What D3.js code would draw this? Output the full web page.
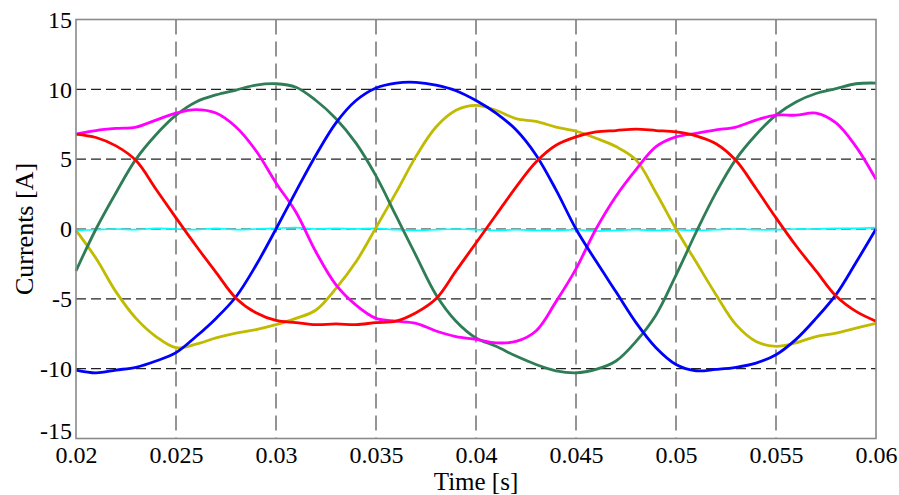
<!DOCTYPE html>
<html><head><meta charset="utf-8">
<script src="https://cdn.jsdelivr.net/npm/d3@7"></script>
<style>html,body{margin:0;padding:0;background:#fff;}svg{display:block;} svg text{font-family:"Liberation Serif","Times New Roman",Times,serif !important;}</style>
</head><body>
<svg id="chart" width="899" height="495"></svg>
<script>
const time = [0.020,0.021,0.022,0.023,0.024,0.025,0.026,0.027,0.028,0.029,0.030,0.031,0.032,0.033,0.034,0.035,0.036,0.037,0.038,0.039,0.040,0.041,0.042,0.043,0.044,0.045,0.046,0.047,0.048,0.049,0.050,0.051,0.052,0.053,0.054,0.055,0.056,0.057,0.058,0.059,0.060];
const red = [6.8,6.55,5.95,4.9,2.85,0.8,-1.2,-3.1,-4.95,-6.0,-6.55,-6.7,-6.85,-6.8,-6.85,-6.7,-6.6,-6.0,-5.0,-3.0,-1.0,1.0,3.0,4.8,6.0,6.6,6.95,7.05,7.15,7.05,6.95,6.67,6.1,4.9,2.9,0.8,-1.2,-3.0,-4.8,-5.9,-6.6];
const magenta = [6.8,7.05,7.2,7.3,7.8,8.3,8.55,8.3,7.3,5.6,3.3,1.2,-1.65,-4.0,-5.45,-6.4,-6.6,-6.75,-7.3,-7.7,-7.9,-8.15,-8.05,-7.3,-5.2,-2.85,0.0,2.35,4.25,5.9,6.6,6.85,7.1,7.3,7.8,8.15,8.15,8.3,7.6,5.9,3.55];
const green = [-3.0,0.0,2.6,5.0,6.75,8.15,9.1,9.6,9.95,10.3,10.4,10.15,9.2,7.9,6.15,3.8,0.95,-1.9,-4.7,-6.6,-7.8,-8.4,-9.1,-9.7,-10.15,-10.3,-10.05,-9.45,-8.05,-6.15,-3.3,-0.25,2.6,5.0,6.75,8.15,9.1,9.7,10.05,10.4,10.45];
const blue = [-10.1,-10.3,-10.1,-9.9,-9.45,-8.85,-7.7,-6.4,-4.85,-2.6,0.0,2.7,5.3,7.6,9.2,10.1,10.45,10.5,10.3,9.9,9.2,8.3,7.1,5.3,2.8,0.0,-2.3,-4.5,-6.7,-8.5,-9.7,-10.15,-10.05,-9.9,-9.6,-9.0,-7.9,-6.4,-4.7,-2.4,0.0];
const yellow = [-0.1,-2.1,-4.5,-6.4,-7.7,-8.5,-8.25,-7.8,-7.45,-7.2,-6.85,-6.4,-5.8,-4.25,-2.35,0.1,2.6,5.2,7.3,8.5,8.85,8.5,7.9,7.7,7.3,7.0,6.5,5.9,4.95,2.6,0.0,-2.35,-4.7,-6.85,-8.05,-8.4,-8.15,-7.7,-7.45,-7.1,-6.75];
const cyan = [-0.1,-0.05,0.0,-0.05,0.05,0.0,-0.05,0.05,-0.05,0.0,0.05,0.1,0.0,0.05,0.0,0.05,-0.05,-0.1,-0.05,0.0,-0.05,-0.1,-0.05,-0.1,-0.1,-0.05,-0.15,-0.1,-0.05,-0.1,-0.05,-0.1,-0.05,0.0,-0.05,-0.05,0.0,0.0,0.05,0.05,0.1];
const xTicks = [0.02,0.025,0.03,0.035,0.04,0.045,0.05,0.055,0.06];
const xTickLabels = ["0.02","0.025","0.03","0.035","0.04","0.045","0.05","0.055","0.06"];
const yTicks = [-15,-10,-5,0,5,10,15];
const yTickLabels = ["-15","-10","-5","0","5","10","15"];
const xLabel = "Time [s]";
const yLabel = "Currents [A]";

const series = [
  {name:"cyan", values:cyan, color:"#00ffff", width:1.7},
  {name:"yellow", values:yellow, color:"#c0bb00", width:2.8},
  {name:"green", values:green, color:"#2e7d57", width:2.8},
  {name:"magenta", values:magenta, color:"#ff00ff", width:2.8},
  {name:"blue", values:blue, color:"#0000ff", width:2.8},
  {name:"red", values:red, color:"#ff0000", width:2.8}
];

const svg = d3.select("#chart");
const m = {left:76, right:876, top:19.5, bottom:438.5};
const x = d3.scaleLinear().domain([0.02,0.06]).range([m.left,m.right]);
const y = d3.scaleLinear().domain([-15,15]).range([m.bottom,m.top]);

// grid
const g = svg.append("g");
g.selectAll(".vg").data(xTicks.slice(1,-1)).enter().append("line")
  .attr("x1",d=>x(d)).attr("x2",d=>x(d)).attr("y1",m.top).attr("y2",m.bottom)
  .attr("stroke","#7a7a7a").attr("stroke-width",1.6).attr("stroke-dasharray","15,7");
g.selectAll(".hg").data(yTicks.slice(1,-1)).enter().append("line")
  .attr("x1",m.left).attr("x2",m.right).attr("y1",d=>y(d)).attr("y2",d=>y(d))
  .attr("stroke","#222").attr("stroke-width",1.2).attr("stroke-dasharray","10,5");

// lines
const line = d3.line().x((d,i)=>x(time[i])).y(d=>y(d)).curve(d3.curveCatmullRom.alpha(0.5));
svg.append("g").selectAll("path").data(series).enter().append("path")
  .attr("d",d=>line(d.values)).attr("fill","none")
  .attr("stroke",d=>d.color).attr("stroke-width",d=>d.width)
  .attr("stroke-linejoin","round");

// frame
svg.append("rect").attr("x",m.left).attr("y",m.top).attr("width",m.right-m.left).attr("height",m.bottom-m.top)
  .attr("fill","none").attr("stroke","#8a8a8a").attr("stroke-width",1.6);

// axes (labels only)
const xAxis = d3.axisBottom(x).tickValues(xTicks).tickFormat((d,i)=>xTickLabels[i]).tickSize(0).tickPadding(7);
const xg = svg.append("g").attr("transform",`translate(0,${m.bottom})`).call(xAxis);
xg.select(".domain").remove();
xg.selectAll("text").attr("font-size",24).attr("fill","#000");

const yAxis = d3.axisLeft(y).tickValues(yTicks).tickFormat((d,i)=>yTickLabels[i]).tickSize(0).tickPadding(4);
const yg = svg.append("g").attr("transform",`translate(${m.left},0)`).call(yAxis);
yg.select(".domain").remove();
yg.selectAll("text").attr("font-size",24).attr("fill","#000");
yg.selectAll("text").filter(d=>d===-15).attr("dy","-0.02em");

svg.append("text").attr("x",(m.left+m.right)/2).attr("y",490).attr("text-anchor","middle")
  .attr("font-size",25).attr("fill","#000").text(xLabel);
svg.append("text").attr("transform",`translate(33,${(m.top+m.bottom)/2}) rotate(-90)`).attr("text-anchor","middle")
  .attr("font-size",26).attr("fill","#000").text(yLabel);
</script>
</body></html>
